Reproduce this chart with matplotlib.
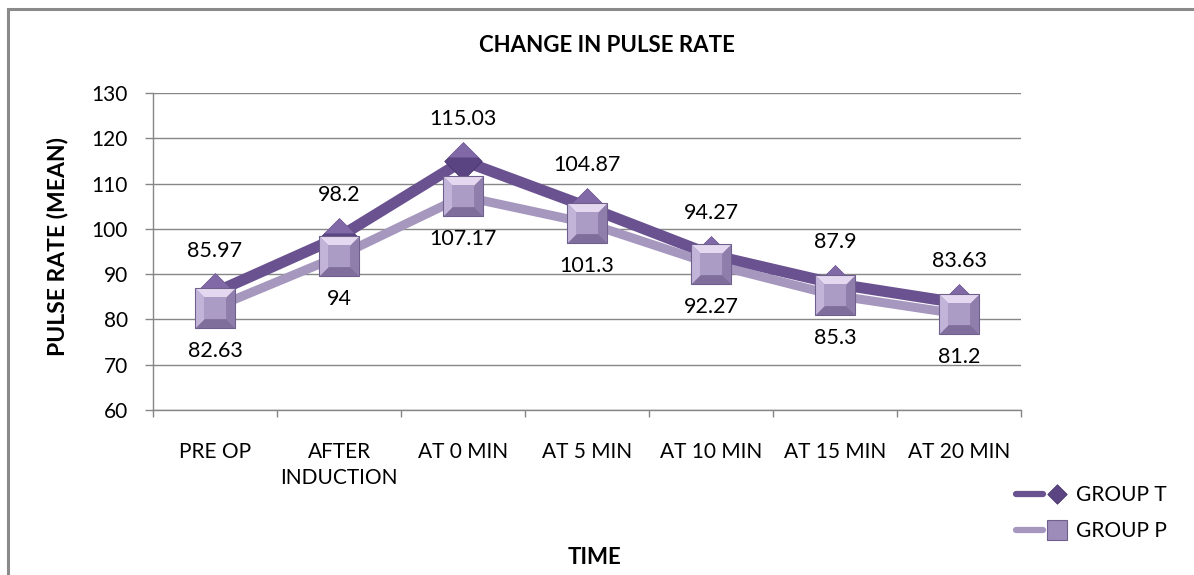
import matplotlib
matplotlib.use("Agg")
import matplotlib.pyplot as plt
from matplotlib.lines import Line2D
from matplotlib.legend_handler import HandlerTuple
from matplotlib.patches import Rectangle
from matplotlib.path import Path

# data
time_points = ["PRE OP", "AFTER\nINDUCTION", "AT 0 MIN", "AT 5 MIN",
               "AT 10 MIN", "AT 15 MIN", "AT 20 MIN"]
group_t = [85.97, 98.2, 115.03, 104.87, 94.27, 87.9, 83.63]
group_p = [82.63, 94, 107.17, 101.3, 92.27, 85.3, 81.2]
y_ticks = [60, 70, 80, 90, 100, 110, 120, 130]

plt.rcParams["font.family"] = ["Lato", "DejaVu Sans"]
plt.rcParams["text.color"] = "black"
plt.rcParams["xtick.labelcolor"] = "black"
plt.rcParams["ytick.labelcolor"] = "black"

W, H = 1194, 575
fig = plt.figure(figsize=(W / 100, H / 100), dpi=100)
ax = fig.add_axes([153 / W, 1 - 410 / H, (1021 - 153) / W, (410 - 93) / H])

grey = "#868686"
t_line = "#6a5190"
p_line = "#a597be"

xs = [i + 0.5 for i in range(len(time_points))]

# marker facet shapes (bevel look like the office chart)
diamond = Path([(0, 1), (1, 0), (0, -1), (-1, 0), (0, 1)], closed=True)
sq_top = Path([(-1, 1), (1, 1), (0.55, 0.55), (-0.55, 0.55), (-1, 1)], closed=True)
sq_bot = Path([(-1, -1), (1, -1), (0.55, -0.55), (-0.55, -0.55), (-1, -1)], closed=True)
sq_left = Path([(-1, -1), (-1, 1), (-0.55, 0.55), (-0.55, -0.55), (-1, -1)], closed=True)
sq_right = Path([(1, -1), (1, 1), (0.55, 0.55), (0.55, -0.55), (1, -1)], closed=True)

# lines
ax.plot(xs, group_t, color=t_line, lw=8, solid_capstyle="round", zorder=3)
ax.plot(xs, group_p, color=p_line, lw=6.5, solid_capstyle="round", zorder=3.5)

# group T diamonds: dark base with lighter top half
ax.plot(xs, group_t, ls="none", marker=diamond, markersize=27,
        markerfacecolor="#5b4482", markeredgecolor="#4b376d",
        markeredgewidth=0.6, zorder=4)
ax.plot(xs, [v + 0.9 for v in group_t], ls="none",
        marker=Path([(-0.8, 0), (0, 0.8), (0.8, 0), (-0.8, 0)], closed=True),
        markersize=22, markerfacecolor="#8069a6", markeredgewidth=0, zorder=4.1)

# group P squares: bevelled
ax.plot(xs, group_p, ls="none", marker="s", markersize=29,
        markerfacecolor="#9d8cb9", markeredgecolor="#6f5f8c",
        markeredgewidth=0.8, zorder=5)
for shape, col in [(sq_top, "#e3d8ef"), (sq_left, "#c2b4d8"),
                   (sq_right, "#8f7eab"), (sq_bot, "#7f6e9c")]:
    ax.plot(xs, group_p, ls="none", marker=shape, markersize=28,
            markerfacecolor=col, markeredgewidth=0, zorder=5.1)
ax.plot(xs, group_p, ls="none", marker="s", markersize=15.5,
        markerfacecolor="#ab9cc6", markeredgewidth=0, zorder=5.2)

# data labels
for x, v in zip(xs, group_t):
    ax.annotate(f"{v:g}", (x, v), xytext=(0, 30), textcoords="offset points",
                ha="center", va="center", fontsize=15.5, zorder=6)
for x, v in zip(xs, group_p):
    ax.annotate(f"{v:g}", (x, v), xytext=(0, -31), textcoords="offset points",
                ha="center", va="center", fontsize=15.5, zorder=6)

ax.set_ylim(60, 130)
ax.set_xlim(0, len(time_points))
ax.set_yticks(y_ticks)
ax.yaxis.grid(True, color=grey, lw=1)
ax.set_axisbelow(True)
ax.set_xticks(range(len(time_points) + 1))
ax.set_xticklabels([])
ax.set_xticks(xs, minor=True)
ax.set_xticklabels(time_points, minor=True, fontsize=15, linespacing=1.35)
ax.tick_params(axis="x", which="minor", length=0, pad=23)
ax.tick_params(axis="x", which="major", length=5, color=grey, width=1, direction="out")
ax.tick_params(axis="y", length=6, color=grey, width=1, pad=12, labelsize=15)

for side in ["top", "right"]:
    ax.spines[side].set_visible(False)
for side in ["left", "bottom"]:
    ax.spines[side].set_color(grey)
    ax.spines[side].set_linewidth(1)

fig.text(607 / W, 1 - 45 / H, "CHANGE IN PULSE RATE", ha="center", va="center",
         fontsize=16, fontweight="bold")
fig.text(57 / W, 1 - 247 / H, "PULSE RATE (MEAN)", ha="center", va="center",
         rotation=90, fontsize=16.5, fontweight="bold")
fig.text(594 / W, 1 - 557 / H, "TIME", ha="center", va="center",
         fontsize=16, fontweight="bold")

# legend
h_t = (Line2D([], [], color=t_line, lw=4.5, solid_capstyle="round"),
       Line2D([], [], ls="none", marker=diamond, markersize=14,
              markerfacecolor="#5b4482", markeredgecolor="#4b376d", markeredgewidth=0.6))
h_p = (Line2D([], [], color=p_line, lw=4.5, solid_capstyle="round"),
       Line2D([], [], ls="none", marker="s", markersize=14.5,
              markerfacecolor="#9d8cb9", markeredgecolor="#6f5f8c", markeredgewidth=0.8))
fig.legend([h_t, h_p], ["GROUP T", "GROUP P"],
           handler_map={tuple: HandlerTuple(ndivide=None)},
           loc="center left", bbox_to_anchor=(1016 / W, 1 - 513 / H),
           frameon=False, fontsize=15, handlelength=2.6, handletextpad=0.3,
           labelspacing=0.75, borderaxespad=0, borderpad=0)

fig.patches.append(Rectangle((8 / W, -0.5), 2, 0.5 + (1 - 9 / H), transform=fig.transFigure,
                             fill=False, edgecolor="#8a8a8a", linewidth=2.2))

fig.savefig("out.png", dpi=100)
